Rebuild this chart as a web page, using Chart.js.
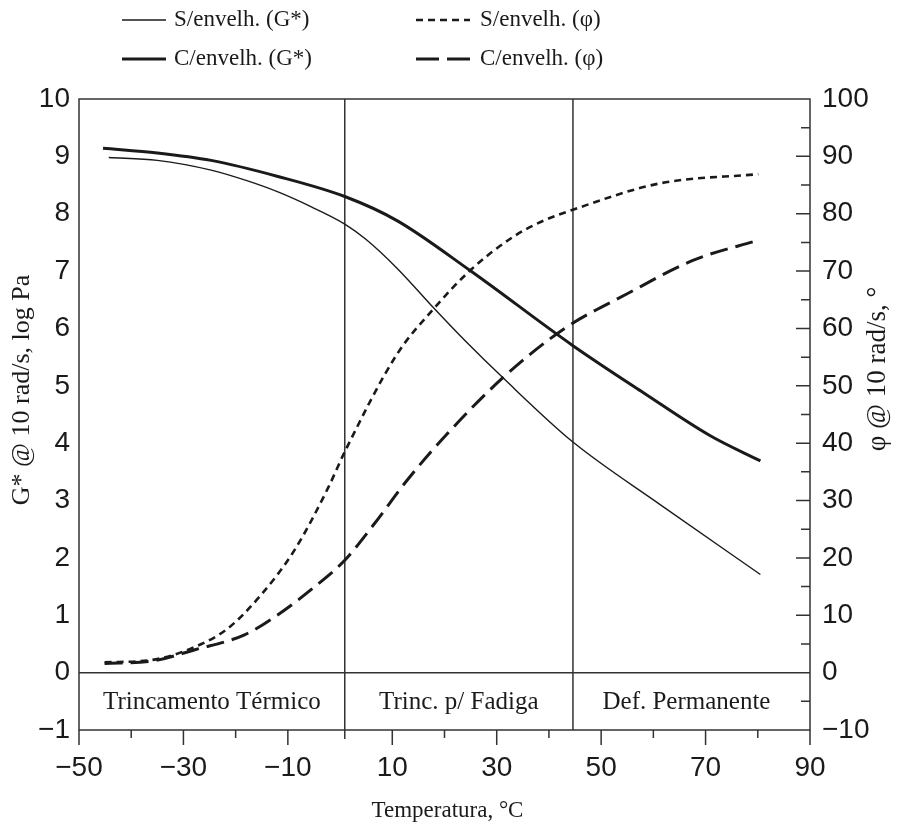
<!DOCTYPE html>
<html>
<head>
<meta charset="utf-8">
<script src="https://cdn.jsdelivr.net/npm/chart.js@4.4.0/dist/chart.umd.min.js"></script>
<style>
  body { margin: 0; background: #fff; }
  #wrap { width: 904px; height: 825px; }
</style>
</head>
<body>
<div id="wrap"><canvas id="grafico"></canvas></div>
<script>
// eixos
const xTicks = [-50, -30, -10, 10, 30, 50, 70, 90];
const yTicks = [-1, 0, 1, 2, 3, 4, 5, 6, 7, 8, 9, 10];
const y2Ticks = [-10, 0, 10, 20, 30, 40, 50, 60, 70, 80, 90, 100];

// S/envelh. (G*)
const sTempG = [-44.3, -35, -24.7, -18, -11.9, -5.5, 0.9, 5, 10.9, 17.9, 24, 31.3, 44.6, 61.3, 80.5];
const sG = [8.98, 8.93, 8.76, 8.58, 8.38, 8.12, 7.82, 7.55, 7.05, 6.36, 5.78, 5.13, 4.02, 2.93, 1.71];

// C/envelh. (G*)
const cTempG = [-45.4, -35, -24.7, -11.9, 0.9, 10.9, 24.9, 44.6, 58.1, 70.9, 80.5];
const cG = [9.14, 9.06, 8.93, 8.65, 8.30, 7.88, 7.01, 5.70, 4.88, 4.13, 3.69];

// S/envelh. (phi)
const sTempP = [-45.1, -36.1, -27.8, -21.5, -15.1, -8.7, -2.3, 0.9, 10.9, 17.9, 24.9, 33.2, 38.5, 44.6, 61.3, 80.1];
const sP = [1.8, 2.2, 4.5, 7.7, 13.6, 21.4, 32.2, 38.5, 55.5, 63.4, 70.1, 76.0, 78.6, 80.7, 85.3, 86.9];

// C/envelh. (phi)
const cTempP = [-45.1, -36.1, -27.8, -18.3, -11.9, -5.5, 0.9, 6.6, 12.8, 21.1, 31.3, 43.0, 54.9, 67.7, 80.5];
const cP = [1.6, 2.0, 4.0, 6.6, 10.1, 14.5, 19.6, 26.0, 33.5, 42.2, 51.5, 60.0, 66.0, 71.9, 75.5];

// zonas
const limites = [0.9, 44.6];
const zonas = ["Trincamento Térmico", "Trinc. p/ Fadiga", "Def. Permanente"];

const serif = '"Liberation Serif", "Times New Roman", serif';
const sans = '"Liberation Sans", Arial, sans-serif';
const tinta = "#1a1a1a";

function pares(xs, ys) {
    return xs.map((x, i) => ({ x: x, y: ys[i] }));
}

function fmt(v) {
    return v < 0 ? "\u2212" + Math.abs(v) : String(v);
}

const series = [
    { label: "S/envelh. (G*)", data: pares(sTempG, sG), eixo: "y", w: 1.4, dash: [], legDash: [] },
    { label: "C/envelh. (G*)", data: pares(cTempG, cG), eixo: "y", w: 3, dash: [], legDash: [] },
    { label: "S/envelh. (\u03c6)", data: pares(sTempP, sP), eixo: "y2", w: 2.6, dash: [7, 5], legDash: [7, 5] },
    { label: "C/envelh. (\u03c6)", data: pares(cTempP, cP), eixo: "y2", w: 3, dash: [18, 8], legDash: [23, 8] }
];

const decor = {
    id: "decor",
    beforeDatasetsDraw(chart) {
        const ctx = chart.ctx;
        const a = chart.chartArea;
        const sx = chart.scales.x, sy = chart.scales.y, sy2 = chart.scales.y2;
        ctx.save();
        ctx.strokeStyle = "#333";
        ctx.lineWidth = 1.5;
        ctx.strokeRect(a.left, a.top, a.right - a.left, a.bottom - a.top);

        // linha do zero e divisões
        ctx.beginPath();
        let y0 = sy.getPixelForValue(0);
        ctx.moveTo(a.left, y0);
        ctx.lineTo(a.right, y0);
        limites.forEach((v, i) => {
            let px = sx.getPixelForValue(v);
            ctx.moveTo(px, a.top);
            ctx.lineTo(px, a.bottom + (i === 0 ? 9 : 0));
        });

        // marcas do eixo x (para fora)
        for (let v = -50; v <= 90; v += 10) {
            if (v === 0) continue;
            let px = sx.getPixelForValue(v);
            let len = xTicks.includes(v) ? 15 : 8;
            ctx.moveTo(px, a.bottom);
            ctx.lineTo(px, a.bottom + len);
        }

        // marcas do eixo direito (para dentro)
        for (let v = -5; v < 100; v += 5) {
            let py = sy2.getPixelForValue(v);
            let len = v % 10 === 0 ? 14 : 9;
            ctx.moveTo(a.right, py);
            ctx.lineTo(a.right - len, py);
        }
        ctx.stroke();
        ctx.restore();
    },
    afterDraw(chart) {
        const ctx = chart.ctx;
        const a = chart.chartArea;
        const sx = chart.scales.x, sy = chart.scales.y;
        ctx.save();
        ctx.fillStyle = tinta;
        ctx.textBaseline = "middle";

        // nomes das zonas
        ctx.font = "25px " + serif;
        ctx.textAlign = "center";
        let yz = (sy.getPixelForValue(0) + a.bottom) / 2 + 1;
        let bordas = [a.left, sx.getPixelForValue(limites[0]), sx.getPixelForValue(limites[1]), a.right];
        zonas.forEach((z, i) => {
            ctx.fillText(z, (bordas[i] + bordas[i + 1]) / 2 - (i === 2 ? 5 : 0), yz);
        });

        // titulo eixo x
        ctx.font = "23px " + serif;
        ctx.fillText("Temperatura, °C", (a.left + a.right) / 2 + 3, 811);

        // titulos verticais
        ctx.font = "26px " + serif;
        ctx.save();
        ctx.translate(22, 390);
        ctx.rotate(-Math.PI / 2);
        ctx.fillText("G* @ 10 rad/s, log Pa", 0, 0);
        ctx.restore();

        ctx.font = "27px " + serif;
        ctx.save();
        ctx.translate(878, 369);
        ctx.rotate(-Math.PI / 2);
        ctx.fillText("\u03c6 @ 10 rad/s, °", 0, 0);
        ctx.restore();

        // legenda
        const cols = [{ x0: 122, x1: 166, tx: 174 }, { x0: 416, x1: 470, tx: 480 }];
        const rows = [20, 59];
        ctx.textAlign = "left";
        ctx.font = "23px " + serif;
        [[0, 0, 0], [1, 1, 0], [2, 0, 1], [3, 1, 1]].forEach(([i, r, c]) => {
            const s = series[i];
            const col = cols[c];
            ctx.beginPath();
            ctx.strokeStyle = tinta;
            ctx.lineWidth = s.w;
            ctx.setLineDash(s.legDash);
            ctx.moveTo(col.x0, rows[r]);
            ctx.lineTo(col.x1, rows[r]);
            ctx.stroke();
            ctx.setLineDash([]);
            ctx.fillText(s.label, col.tx, rows[r]);
        });
        ctx.restore();
    }
};

new Chart(document.getElementById("grafico"), {
    type: "line",
    data: {
        datasets: series.map(s => ({
            label: s.label,
            data: s.data,
            yAxisID: s.eixo,
            borderColor: tinta,
            borderWidth: s.w,
            borderDash: s.dash,
            pointRadius: 0,
            fill: false,
            cubicInterpolationMode: "monotone"
        }))
    },
    options: {
        responsive: true,
        maintainAspectRatio: false,
        animation: false,
        events: [],
        layout: { padding: { top: 99, left: 0, right: 0, bottom: 0 } },
        plugins: { legend: { display: false }, tooltip: { enabled: false } },
        scales: {
            x: {
                type: "linear",
                min: -50,
                max: 90,
                afterBuildTicks: s => { s.ticks = xTicks.map(v => ({ value: v })); },
                afterFit: s => { s.height = 95; },
                grid: { display: false, drawTicks: false },
                border: { display: false },
                ticks: { autoSkip: false, maxRotation: 0, padding: 21, color: tinta, font: { family: sans, size: 28 }, callback: v => fmt(v) }
            },
            y: {
                position: "left",
                min: -1,
                max: 10,
                afterBuildTicks: s => { s.ticks = yTicks.map(v => ({ value: v })); },
                afterFit: s => { s.width = 79; },
                grid: { display: false, drawTicks: false },
                border: { display: false },
                ticks: { padding: 9, color: tinta, font: { family: sans, size: 28 }, callback: v => fmt(v) }
            },
            y2: {
                position: "right",
                min: -10,
                max: 100,
                afterBuildTicks: s => { s.ticks = y2Ticks.map(v => ({ value: v })); },
                afterFit: s => { s.width = 94; },
                grid: { display: false, drawTicks: false },
                border: { display: false },
                ticks: { padding: 12, color: tinta, font: { family: sans, size: 28 }, callback: v => fmt(v) }
            }
        }
    },
    plugins: [decor]
});
</script>
</body>
</html>
